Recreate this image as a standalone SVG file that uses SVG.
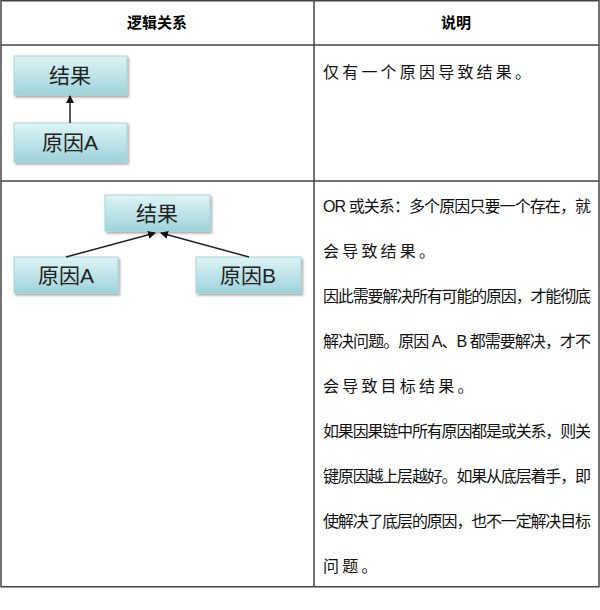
<svg xmlns="http://www.w3.org/2000/svg" width="600" height="610" viewBox="0 0 600 610">
<style>
.grid{stroke:#444;stroke-width:1.5;fill:none}
.hd{font-family:"Liberation Sans","Noto Sans CJK SC",sans-serif;font-size:15px;font-weight:bold;fill:#000;text-anchor:middle}
.tx{font-family:"Liberation Sans","Noto Sans CJK SC",sans-serif;font-size:16px;fill:#111}
.sp{letter-spacing:3.2px}
.box{fill:url(#g);stroke:#a6d3d9;stroke-width:1}
.bl{font-family:"Liberation Sans","Noto Sans CJK SC",sans-serif;font-size:21px;fill:#222;text-anchor:middle}
.cn{stroke:#222;stroke-width:1.5;fill:none;marker-end:url(#ah)}
</style>
<defs>
<linearGradient id="g" x1="0" y1="0" x2="0" y2="1"><stop offset="0" stop-color="#def4f6"/><stop offset="1" stop-color="#9ed3da"/></linearGradient>
<filter id="sh" x="-10%" y="-10%" width="125%" height="140%"><feDropShadow dx="1.5" dy="2" stdDeviation="1.2" flood-color="#000" flood-opacity="0.35"/></filter>
<marker id="ah" markerWidth="8" markerHeight="8" refX="7" refY="4" orient="auto" markerUnits="userSpaceOnUse"><path d="M0,0 L8,4 L0,8 z" fill="#111"/></marker>
</defs>
<rect width="600" height="610" fill="#fff"/>
<g id="table">
<rect class="grid" x="1" y="0.75" width="598" height="586"/>
<line class="grid" x1="1" y1="45" x2="599" y2="45"/>
<line class="grid" x1="1" y1="181" x2="599" y2="181"/>
<line class="grid" x1="314" y1="0" x2="314" y2="587"/>
<text class="hd" x="157" y="28">逻辑关系</text>
<text class="hd" x="456" y="28">说明</text>
</g>
<g id="n1"><rect class="box" filter="url(#sh)" x="14" y="56" width="113" height="39"/><text class="bl" x="70" y="83">结果</text></g>
<g id="n2"><rect class="box" filter="url(#sh)" x="14" y="123" width="113" height="39"/><text class="bl" x="70" y="150">原因A</text></g>
<g id="n3"><rect class="box" filter="url(#sh)" x="105" y="195" width="105" height="36"/><text class="bl" x="157" y="221">结果</text></g>
<g id="n4"><rect class="box" filter="url(#sh)" x="14" y="257" width="104" height="36"/><text class="bl" x="66" y="283">原因A</text></g>
<g id="n5"><rect class="box" filter="url(#sh)" x="196" y="257" width="105" height="36"/><text class="bl" x="248" y="283">原因B</text></g>
<g id="connectors">
<line class="cn" x1="70" y1="123" x2="70" y2="96"/>
<line class="cn" x1="66" y1="257" x2="155" y2="233"/>
<line class="cn" x1="249" y1="257" x2="161" y2="233"/>
</g>
<g id="desc">
<text class="tx sp" x="323" y="78">仅有一个原因导致结果。</text>
<text class="tx" x="323" y="212" textLength="268" lengthAdjust="spacing">OR 或关系：多个原因只要一个存在，就</text>
<text class="tx sp" x="323" y="257">会导致结果。</text>
<text class="tx" x="323" y="302" textLength="268" lengthAdjust="spacing">因此需要解决所有可能的原因，才能彻底</text>
<text class="tx" x="323" y="347" textLength="268" lengthAdjust="spacing">解决问题。原因 A、B 都需要解决，才不</text>
<text class="tx sp" x="323" y="392">会导致目标结果。</text>
<text class="tx" x="323" y="437" textLength="268" lengthAdjust="spacing">如果因果链中所有原因都是或关系，则关</text>
<text class="tx" x="323" y="482" textLength="268" lengthAdjust="spacing">键原因越上层越好。如果从底层着手，即</text>
<text class="tx" x="323" y="527" textLength="268" lengthAdjust="spacing">使解决了底层的原因，也不一定解决目标</text>
<text class="tx sp" x="323" y="572">问题。</text>
</g>
</svg>
